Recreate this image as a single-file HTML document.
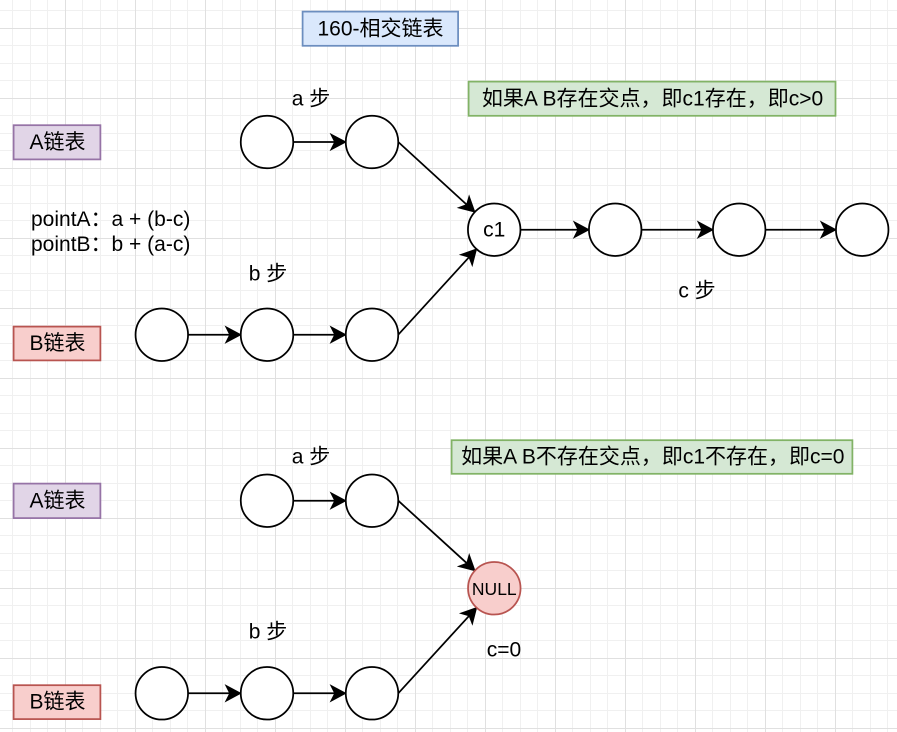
<!DOCTYPE html>
<html><head><meta charset="utf-8"><style>
html,body{margin:0;padding:0;background:#fff;}
svg{display:block;}
text{font-family:"Liberation Sans","Noto Sans CJK SC",sans-serif;font-size:21px;fill:#000;}
</style></head><body>
<svg width="897" height="732" viewBox="0 0 897 732" xmlns="http://www.w3.org/2000/svg">
<rect width="897" height="732" fill="#fff"/>
<path stroke="#f0f0f0" stroke-width="1" fill="none" d="M12.5 0V732M30.5 0V732M47.5 0V732M82.5 0V732M100.5 0V732M117.5 0V732M152.5 0V732M170.5 0V732M187.5 0V732M222.5 0V732M240.5 0V732M257.5 0V732M292.5 0V732M310.5 0V732M327.5 0V732M362.5 0V732M380.5 0V732M397.5 0V732M432.5 0V732M450.5 0V732M467.5 0V732M502.5 0V732M520.5 0V732M537.5 0V732M572.5 0V732M590.5 0V732M607.5 0V732M642.5 0V732M660.5 0V732M677.5 0V732M712.5 0V732M730.5 0V732M747.5 0V732M782.5 0V732M800.5 0V732M817.5 0V732M852.5 0V732M870.5 0V732M887.5 0V732
M0 10.5H897M0 45.5H897M0 63.5H897M0 80.5H897M0 115.5H897M0 133.5H897M0 150.5H897M0 185.5H897M0 203.5H897M0 220.5H897M0 255.5H897M0 273.5H897M0 290.5H897M0 325.5H897M0 343.5H897M0 360.5H897M0 395.5H897M0 413.5H897M0 430.5H897M0 465.5H897M0 483.5H897M0 500.5H897M0 535.5H897M0 553.5H897M0 570.5H897M0 605.5H897M0 623.5H897M0 640.5H897M0 675.5H897M0 693.5H897M0 710.5H897"/>
<path stroke="#e0e0e0" stroke-width="1" fill="none" d="M65.5 0V732M135.5 0V732M205.5 0V732M275.5 0V732M345.5 0V732M415.5 0V732M485.5 0V732M555.5 0V732M625.5 0V732M695.5 0V732M765.5 0V732M835.5 0V732
M0 28.5H897M0 98.5H897M0 168.5H897M0 238.5H897M0 308.5H897M0 378.5H897M0 448.5H897M0 518.5H897M0 588.5H897M0 658.5H897M0 728.5H897"/>

<!-- boxes -->
<rect x="302.6" y="11.6" width="155.5" height="34.2" fill="#dae8fc" stroke="#6c8ebf" stroke-width="1.75"/>
<text x="380.5" y="29" text-anchor="middle" dominant-baseline="central">160-相交链表</text>

<rect x="468.6" y="81.6" width="366.9" height="34.2" fill="#d5e8d4" stroke="#82b366" stroke-width="1.75"/>
<text x="652.5" y="99" text-anchor="middle" dominant-baseline="central">如果A B存在交点，即c1存在，即c&gt;0</text>

<rect x="451.6" y="440.2" width="400.8" height="33.6" fill="#d5e8d4" stroke="#82b366" stroke-width="1.75"/>
<text x="652.8" y="457" text-anchor="middle" dominant-baseline="central">如果A B不存在交点，即c1不存在，即c=0</text>

<rect x="13.6" y="125.2" width="86.8" height="34.2" fill="#e1d5e7" stroke="#9673a6" stroke-width="1.75"/>
<text x="57.5" y="142.3" text-anchor="middle" dominant-baseline="central">A链表</text>
<rect x="13.6" y="326.6" width="86.8" height="33.8" fill="#f8cecc" stroke="#b85450" stroke-width="1.75"/>
<text x="57.5" y="343.5" text-anchor="middle" dominant-baseline="central">B链表</text>
<rect x="13.6" y="483.6" width="86.8" height="34.5" fill="#e1d5e7" stroke="#9673a6" stroke-width="1.75"/>
<text x="57.5" y="501" text-anchor="middle" dominant-baseline="central">A链表</text>
<rect x="13.6" y="685.2" width="86.8" height="33.9" fill="#f8cecc" stroke="#b85450" stroke-width="1.75"/>
<text x="57.5" y="702" text-anchor="middle" dominant-baseline="central">B链表</text>

<!-- free text -->
<text x="31" y="226">pointA：a + (b-c)</text>
<text x="31" y="251">pointB：b + (a-c)</text>
<text x="311" y="99" text-anchor="middle" dominant-baseline="central">a 步</text>
<text x="268" y="274" text-anchor="middle" dominant-baseline="central">b 步</text>
<text x="697" y="291" text-anchor="middle" dominant-baseline="central">c 步</text>
<text x="311" y="457" text-anchor="middle" dominant-baseline="central">a 步</text>
<text x="268" y="632" text-anchor="middle" dominant-baseline="central">b 步</text>
<text x="504" y="650" text-anchor="middle" dominant-baseline="central">c=0</text>

<!-- connectors -->
<g stroke="#000" stroke-width="1.75" fill="none">
<path d="M293.25 142H335M188.05 334.7H230M293.25 334.7H335M520.45 229.7H578M641.45 229.7H702M765.45 229.7H825"/>
<path d="M293.25 500.7H335M188.05 693.3H230M293.25 693.3H335"/>
<path d="M398.25 142L466.68 204.59M398.25 334.7L469.05 257.19M398.25 500.7L466.78 563.2M398.25 693.3L469.15 615.79"/>
</g>
<g fill="#000" stroke="#000" stroke-width="1" stroke-linejoin="miter">
<polygon points="345.75,142 330.75,134 334.75,142 330.75,150"/>
<polygon points="240.75,334.7 225.75,326.7 229.75,334.7 225.75,342.7"/>
<polygon points="345.75,334.7 330.75,326.7 334.75,334.7 330.75,342.7"/>
<polygon points="588.95,229.7 573.95,221.7 577.95,229.7 573.95,237.7"/>
<polygon points="712.95,229.7 697.95,221.7 701.95,229.7 697.95,237.7"/>
<polygon points="835.95,229.7 820.95,221.7 824.95,229.7 820.95,237.7"/>
<polygon points="345.75,500.7 330.75,492.7 334.75,500.7 330.75,508.7"/>
<polygon points="240.75,693.3 225.75,685.3 229.75,693.3 225.75,701.3"/>
<polygon points="345.75,693.3 330.75,685.3 334.75,693.3 330.75,701.3"/>
<polygon points="474.8,212 458.34,207.79 466.68,204.59 469.12,195.99"/>
<polygon points="476.48,249.07 472.25,265.54 469.05,257.19 460.45,254.74"/>
<polygon points="474.91,570.61 458.44,566.41 466.78,563.2 469.22,554.59"/>
<polygon points="476.58,607.67 472.35,624.14 469.15,615.79 460.55,613.34"/>
</g>

<!-- circles -->
<g fill="#fff" stroke="#000" stroke-width="1.75">
<circle cx="267" cy="142" r="26.25"/>
<circle cx="372" cy="142" r="26.25"/>
<circle cx="161.8" cy="334.7" r="26.25"/>
<circle cx="267" cy="334.7" r="26.25"/>
<circle cx="372" cy="334.7" r="26.25"/>
<circle cx="494.2" cy="229.7" r="26.25"/>
<circle cx="615.2" cy="229.7" r="26.25"/>
<circle cx="739.2" cy="229.7" r="26.25"/>
<circle cx="862.2" cy="229.7" r="26.25"/>
<circle cx="267" cy="500.7" r="26.25"/>
<circle cx="372" cy="500.7" r="26.25"/>
<circle cx="161.8" cy="693.3" r="26.25"/>
<circle cx="267" cy="693.3" r="26.25"/>
<circle cx="372" cy="693.3" r="26.25"/>
</g>
<circle cx="494.3" cy="588.3" r="26.25" fill="#f8cecc" stroke="#b85450" stroke-width="1.75"/>
<text x="494.2" y="230" text-anchor="middle" dominant-baseline="central">c1</text>
<text x="494.3" y="589" text-anchor="middle" dominant-baseline="central" style="font-size:17.5px">NULL</text>
</svg>
</body></html>
